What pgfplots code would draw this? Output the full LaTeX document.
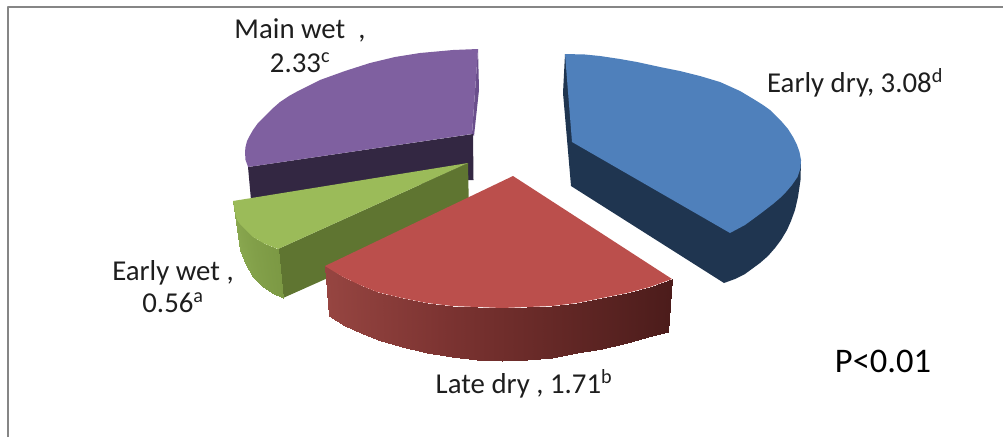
\documentclass[border=0pt]{standalone}
\usepackage{fontspec}
\setmainfont{Carlito}
\usepackage{pgfplots}
\pgfplotsset{compat=1.18}

% Shades along the curved outer walls of the slices
\pgfplotsset{
  colormap={redwall}{rgb255=(150,69,65) rgb255=(125,52,50) rgb255=(100,40,38) rgb255=(76,28,27)},
  colormap={greenwall}{rgb255=(138,168,80) rgb255=(124,153,68)},
}

\definecolor{bluetop}{HTML}{4F80BB}
\definecolor{bluewall}{HTML}{1F3550}
\definecolor{redtop}{HTML}{BB4F4C}
\definecolor{greentop}{HTML}{9BBB59}
\definecolor{greenwallflat}{HTML}{5F7531}
\definecolor{purpletop}{HTML}{7F60A0}
\definecolor{purplewall}{HTML}{332742}
\definecolor{purpleside}{HTML}{6A4E8C}
\definecolor{frameline}{HTML}{868686}
\definecolor{labeltext}{HTML}{1E1E1E}

\begin{document}
\begin{tikzpicture}
\useasboundingbox (0,0) rectangle (1003pt,437pt);
\begin{axis}[
  at={(0,0)}, anchor=south west,
  hide axis,
  scale only axis,
  width=1003pt, height=437pt,
  xmin=0, xmax=1003, ymin=0, ymax=437,
  y dir=reverse,
  enlargelimits=false,
  every axis plot/.append style={line join=round},
]
% Frame along the top and left
\addplot[frameline, line width=2.4pt] coordinates {(8,437) (8,7) (1003,7)};

% Main wet: 2.33
\addplot[fill=purpleside, draw=none] coordinates {(478,49) (479,90) (474,136) (472,134)} --cycle;
\addplot[fill=purplewall, draw=none] coordinates {(248,167) (473,134) (473.5,180) (469,180) (251,200)} --cycle;
\addplot[fill=purpletop, draw=none] coordinates {
  (478,49) (453,50) (420,53) (395,57) (370,63) (345,71) (320,80) (298,91) (289,96) (280,102)
  (272,109) (265,116) (258,123) (253,130) (249,137) (247,141) (245.5,147) (245,152)
  (245.5,160) (247,164) (248,167) (472,134)} --cycle;

% Early dry: 3.08
\addplot[fill=bluewall, draw=none] coordinates {
  (565,54) (563,93) (571,186) (724,283) (735,279) (745,274) (760,263) (768,256) (775,248)
  (781,240) (787,230) (791,221) (795,210) (798,197) (800.5,180) (801,160)} --cycle;
\addplot[fill=bluetop, draw=none] coordinates {
  (565,54) (585,54.5) (600,56) (620,59) (637,62) (660,67) (680,71) (700,76) (720,82)
  (740,91) (755,100) (763,105) (770,110) (777,117) (782,122) (788,129) (793,137) (797,145)
  (799.5,152) (801,160) (800.5,168) (797.5,177) (792,185) (786,192) (780,198) (773,204)
  (760,214) (745,225) (730,233) (572,142)} --cycle;

% Early wet: 0.56
\addplot[fill=greenwallflat, draw=none] coordinates {(468,163) (278,249) (283,298) (469,215)} --cycle;
\addplot[patch, patch type=rectangle, shader=interp, colormap name=greenwall,
  point meta=\thisrow{c}, point meta min=0, point meta max=1] table {
x y c
233 201 0.0
237 220 0.2
246 265 0.2
240 250 0.0
237 220 0.2
245 229 0.4
253 277 0.4
246 265 0.2
245 229 0.4
253 237 0.6
262 286 0.6
253 277 0.4
253 237 0.6
265 244 0.8
272 293 0.8
262 286 0.6
265 244 0.8
278 249 1.0
283 298 1.0
272 293 0.8
};
\addplot[fill=greentop, draw=none] coordinates {
  (468,163) (233,201) (234,207) (235,212) (237,220) (240,224) (245,229) (253,237) (265,244) (278,249)} --cycle;

% Late dry: 1.71
\addplot[patch, patch type=rectangle, shader=interp, colormap name=redwall,
  point meta=\thisrow{c}, point meta min=0, point meta max=1] table {
x y c
325 266 0.00
343 277 0.05
345 326 0.05
329 316 0.00
343 277 0.05
360 285 0.10
361 333 0.10
345 326 0.05
360 285 0.10
377 292 0.15
378 340 0.15
361 333 0.10
377 292 0.15
402 298 0.22
402 347 0.22
378 340 0.15
402 298 0.22
427 303 0.29
427 353 0.29
402 347 0.22
427 303 0.29
452 306 0.37
452 357 0.37
427 353 0.29
452 306 0.37
477 307 0.44
477 360 0.44
452 357 0.37
477 307 0.44
502 308 0.51
502 361 0.51
477 360 0.44
502 308 0.51
527 307 0.58
527 360 0.58
502 361 0.51
527 307 0.58
552 306 0.65
552 358 0.65
527 360 0.58
552 306 0.65
577 303 0.73
577 353 0.73
552 358 0.65
577 303 0.73
602 298 0.80
602 349 0.80
577 353 0.73
602 298 0.80
627 293 0.87
627 343 0.87
602 349 0.80
627 293 0.87
650 287 0.94
648 337 0.94
627 343 0.87
650 287 0.94
672 279 1.00
668 332 1.00
648 337 0.94
};
\addplot[fill=redtop, draw=none] coordinates {
  (513,176) (325,266) (343,277) (360,285) (377,292) (402,298) (427,303) (452,306)
  (477,307) (502,308) (527,307) (552,306) (577,303) (602,298) (627,293) (650,287)
  (672,279)} --cycle;

% Data labels
\begin{scope}[every node/.style={anchor=base, text=labeltext, font=\fontsize{28.8}{32}\selectfont, inner sep=0pt}]
\node at (axis cs:855,92) {Early dry, 3.08\textsuperscript{d}};
\node at (axis cs:524,393) {Late dry , 1.71\textsuperscript{b}};
\node at (axis cs:173,280) {Early wet ,};
\node at (axis cs:173,312) {0.56\textsuperscript{a}};
\node at (axis cs:300,38) {Main wet\ \ ,};
\node at (axis cs:300,72) {2.33\textsuperscript{c}};
\node[font=\fontsize{34.5}{38}\selectfont, text=black] at (axis cs:883,372) {P<0.01};
\end{scope}
\end{axis}
\end{tikzpicture}
\end{document}
